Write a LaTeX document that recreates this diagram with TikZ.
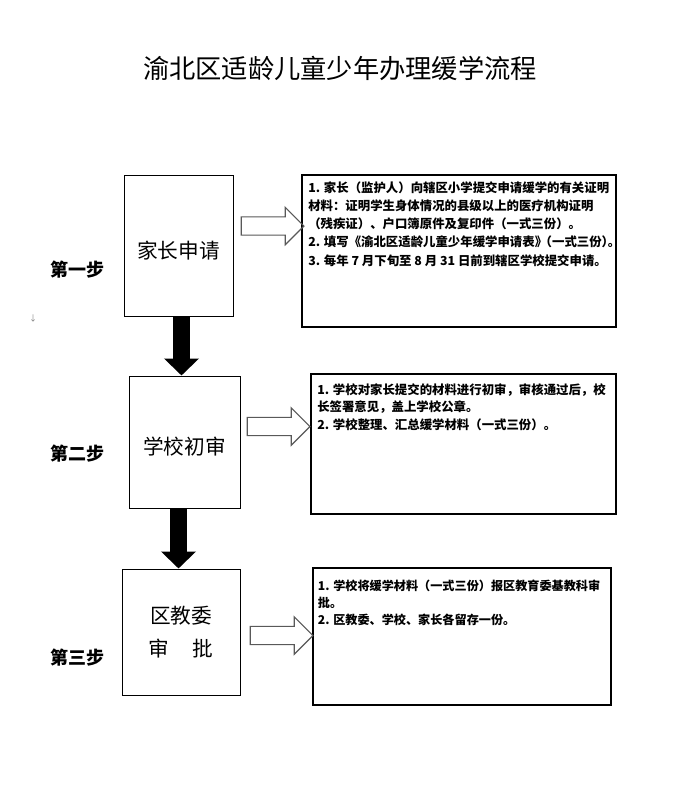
\documentclass[tikz,border=0pt]{standalone}
\usepackage{fontspec}
\setmainfont{Noto Sans CJK SC}
\usetikzlibrary{positioning,shapes.arrows,arrows.meta}

\begin{document}
\begin{tikzpicture}[x=0.75pt,y=-0.75pt,
  box/.style={draw,line width=0.75pt,inner sep=0pt,font=\fontsize{15.5}{25}\selectfont},
  lowtext/.style={text height=2.04em,text depth=0.12em},
  textbox/.style={draw,line width=1pt,inner sep=0pt},
  note/.style={anchor=north west,inner sep=0pt,align=left,font=\bfseries\fontsize{9.3}{13.7}\selectfont},
  steplabel/.style={font=\bfseries\fontsize{13.5}{16}\selectfont},
  hollow/.style={single arrow,draw=black!65,line width=0.9pt,inner xsep=0pt,inner ysep=6.4pt,
    minimum height=47pt,single arrow head extend=7.1pt},
  downarrow/.style={line width=12.75pt,-{Triangle[width=25.5pt,length=12.75pt]}}]

\fill[white] (0,0) rectangle (672,796);
\useasboundingbox (0,0) rectangle (672,796);

\node[font=\fontsize{19.7}{24}\selectfont] (title) at (340,68) {渝北区适龄儿童少年办理缓学流程};

% left column
\node[box,lowtext,minimum width=81.75pt,minimum height=105.75pt] (apply) at (178.5,245.5) {家长申请};
\node[box,lowtext,minimum width=83.25pt,minimum height=99pt]     (check) at (184.5,442)   {学校初审};
\node[box,minimum width=88.5pt,minimum height=94.5pt,align=center] (approve) at (181,632)
     {区教委\\审\hspace{1.15em}批};

\node[steplabel] (s1) at (77.5,270) {第一步};
\node[steplabel] (s2) at (77.5,454) {第二步};
\node[steplabel] (s3) at (77.5,658) {第三步};
\node[text=black!50,font=\fontsize{6}{7}\selectfont] (mark) at (33,318) {↓};

% right column
\node[textbox,minimum width=235.5pt,minimum height=114pt]   (t1) at (459,251)   {};
\node[textbox,minimum width=228.75pt,minimum height=105pt]  (t2) at (463.5,444) {};
\node[textbox,minimum width=223.5pt,minimum height=102.75pt] (t3) at (462,636.5) {};

\node[note,below right=5pt and 5pt of t1.north west] (n1)
  {1. 家长（监护人）向辖区小学提交申请缓学的有关证明\\
   材料：证明学生身体情况的县级以上的医疗机构证明\\
   （残疾证）、户口簿原件及复印件（一式三份）。\\
   2. 填写《渝北区适龄儿童少年缓学申请表》\kern-.6em（一式三份）\kern-.5em。\\
   3. 每年 7 月下旬至 8 月 31 日前到辖区学校提交申请。};
\node[note,below right=7.5pt and 5pt of t2.north west,font=\bfseries\fontsize{9.3}{13}\selectfont] (n2)
  {1. 学校对家长提交的材料进行初审，审核通过后，校\\
   长签署意见，盖上学校公章。\\
   2. 学校整理、汇总缓学材料（一式三份）。};
\node[note,below right=9pt and 4pt of t3.north west,font=\bfseries\fontsize{9.1}{13}\selectfont] (n3)
  {1. 学校将缓学材料（一式三份）报区教育委基教科审\\
   批。\\
   2. 区教委、学校、家长各留存一份。};

% hollow arrows
\node[hollow] (h1) at (268,226)   {};
\node[hollow] (h2) at (274,426.5) {};
\node[hollow] (h3) at (277,635.5) {};

% black arrows
\coordinate (c1) at (181.5,0);
\coordinate (c2) at (178.5,0);
\draw[downarrow] (apply.south -| c1) -- (check.north -| c1);
\draw[downarrow] (check.south -| c2) -- (approve.north -| c2);

\end{tikzpicture}
\end{document}
